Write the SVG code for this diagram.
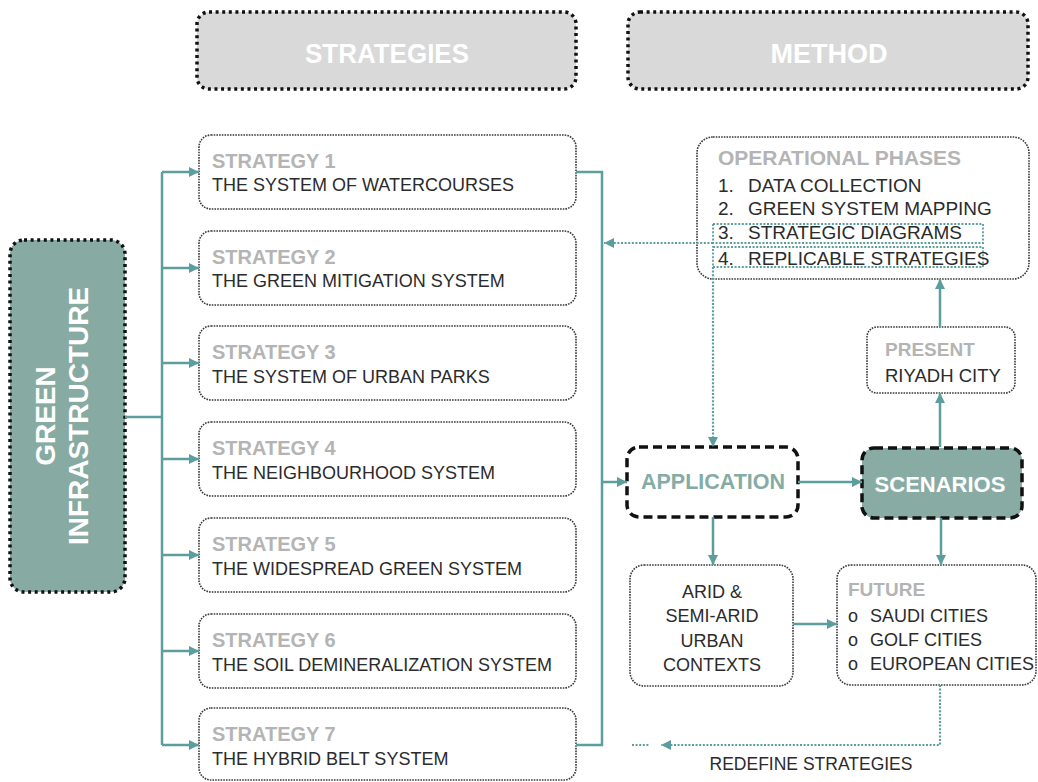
<svg xmlns="http://www.w3.org/2000/svg" width="1038" height="782" viewBox="0 0 1038 782">
<defs>
<style>
text{font-family:"Liberation Sans",Arial,sans-serif;}
.hdr{fill:#d9d9d9;stroke:#111;stroke-width:3.5;stroke-dasharray:3 3.6;}
.gi{fill:#87aba3;stroke:#111;stroke-width:3.5;stroke-dasharray:3 3.6;}
.box{fill:#fff;stroke:#3a3a3a;stroke-width:1.6;stroke-dasharray:1.6 1.1;}
.dash{fill:#fff;stroke:#111;stroke-width:3.5;stroke-dasharray:9 5;}
.dashf{fill:#88aca4;stroke:#111;stroke-width:3.5;stroke-dasharray:9 5;}
.tbox{fill:none;stroke:#5c9e9e;stroke-width:1.8;stroke-dasharray:2 1.6;}
.ln{stroke:#5c9e9e;stroke-width:2.5;fill:none;}
.dl{stroke:#5c9e9e;stroke-width:2.2;stroke-dasharray:2 1.6;fill:none;}
.ht{fill:#fff;font-weight:bold;font-size:27px;text-anchor:middle;}
.st{fill:#b4b4b4;font-weight:bold;font-size:20px;}
.sd{fill:#2b2b2b;font-size:18px;}
.op{fill:#2b2b2b;font-size:19px;}
.wt{fill:#fff;font-weight:bold;}
</style>
<marker id="ah" viewBox="0 0 10 10" markerWidth="11" markerHeight="10" refX="10" refY="5" orient="auto" markerUnits="userSpaceOnUse">
<path d="M0,0 L10,5 L0,10 z" fill="#5c9e9e"/>
</marker>
</defs>
<rect width="1038" height="782" fill="#fff"/>

<g id="hdr-strategies">
<rect class="hdr" x="197" y="12" width="379" height="77" rx="12"/>
<text class="ht" x="387" y="63" textLength="164" lengthAdjust="spacingAndGlyphs">STRATEGIES</text>
</g>
<g id="hdr-method">
<rect class="hdr" x="628" y="12" width="400" height="77" rx="12"/>
<text class="ht" x="829" y="63">METHOD</text>
</g>

<g id="green-infrastructure">
<rect class="gi" x="10" y="240" width="115" height="352" rx="14"/>
<text class="wt" font-size="28" text-anchor="middle" transform="translate(55,416) rotate(-90)">GREEN</text>
<text class="wt" font-size="28" text-anchor="middle" transform="translate(88,416) rotate(-90)">INFRASTRUCTURE</text>
</g>

<g id="strategy1"><rect class="box" x="199" y="135" width="377" height="74" rx="12"/>
<text class="st" x="212" y="168">STRATEGY 1</text><text class="sd" x="212" y="191">THE SYSTEM OF WATERCOURSES</text></g>
<g id="strategy2"><rect class="box" x="199" y="231" width="377" height="74" rx="12"/>
<text class="st" x="212" y="264">STRATEGY 2</text><text class="sd" x="212" y="287">THE GREEN MITIGATION SYSTEM</text></g>
<g id="strategy3"><rect class="box" x="199" y="326" width="377" height="74" rx="12"/>
<text class="st" x="212" y="359">STRATEGY 3</text><text class="sd" x="212" y="383">THE SYSTEM OF URBAN PARKS</text></g>
<g id="strategy4"><rect class="box" x="199" y="422" width="377" height="74" rx="12"/>
<text class="st" x="212" y="455">STRATEGY 4</text><text class="sd" x="212" y="479">THE NEIGHBOURHOOD SYSTEM</text></g>
<g id="strategy5"><rect class="box" x="199" y="518" width="377" height="74" rx="12"/>
<text class="st" x="212" y="551">STRATEGY 5</text><text class="sd" x="212" y="575">THE WIDESPREAD GREEN SYSTEM</text></g>
<g id="strategy6"><rect class="box" x="199" y="614" width="377" height="74" rx="12"/>
<text class="st" x="212" y="647">STRATEGY 6</text><text class="sd" x="212" y="671">THE SOIL DEMINERALIZATION SYSTEM</text></g>
<g id="strategy7"><rect class="box" x="199" y="708" width="377" height="72" rx="12"/>
<text class="st" x="212" y="741">STRATEGY 7</text><text class="sd" x="212" y="765">THE HYBRID BELT SYSTEM</text></g>

<g id="operational-phases">
<rect class="box" x="697" y="137" width="332" height="142" rx="16"/>
<text x="718" y="165" fill="#b4b4b4" font-weight="bold" font-size="21">OPERATIONAL PHASES</text>
<text class="op" x="718" y="192">1.</text><text class="op" x="748" y="192">DATA COLLECTION</text>
<text class="op" x="718" y="215">2.</text><text class="op" x="748" y="215">GREEN SYSTEM MAPPING</text>
<rect class="tbox" x="713" y="224" width="270" height="19"/>
<text class="op" x="718" y="239">3.</text><text class="op" x="748" y="239">STRATEGIC DIAGRAMS</text>
<rect class="tbox" x="713" y="247" width="270" height="20"/>
<text class="op" x="718" y="265">4.</text><text class="op" x="748" y="265">REPLICABLE STRATEGIES</text>
</g>

<g id="present">
<rect class="box" x="867" y="327" width="148" height="66" rx="10"/>
<text x="885" y="356" fill="#b4b4b4" font-weight="bold" font-size="19">PRESENT</text>
<text x="885" y="382" fill="#2b2b2b" font-size="18.5">RIYADH CITY</text>
</g>

<g id="application">
<rect class="dash" x="627" y="447" width="171" height="70" rx="12"/>
<text x="713" y="489" fill="#84aca4" font-weight="bold" font-size="21.5" text-anchor="middle">APPLICATION</text>
</g>

<g id="scenarios">
<rect class="dashf" x="862" y="448" width="160" height="70" rx="12"/>
<text class="wt" x="940" y="492" font-size="22" text-anchor="middle">SCENARIOS</text>
</g>

<g id="arid">
<rect class="box" x="630" y="565" width="163" height="121" rx="14"/>
<text class="sd" x="712" y="598" text-anchor="middle" font-size="18.5">ARID &amp;</text>
<text class="sd" x="712" y="622" text-anchor="middle" font-size="18.5">SEMI-ARID</text>
<text class="sd" x="712" y="647" text-anchor="middle" font-size="18.5">URBAN</text>
<text class="sd" x="712" y="671" text-anchor="middle" font-size="18.5">CONTEXTS</text>
</g>

<g id="future">
<rect class="box" x="837" y="565" width="199" height="120" rx="14"/>
<text x="848" y="596" fill="#b4b4b4" font-weight="bold" font-size="19">FUTURE</text>
<text class="sd" x="848" y="622" font-size="16">o</text><text class="sd" x="870" y="622" font-size="18.5">SAUDI CITIES</text>
<text class="sd" x="848" y="646" font-size="16">o</text><text class="sd" x="870" y="646" font-size="18.5">GOLF CITIES</text>
<text class="sd" x="848" y="670" font-size="16">o</text><text class="sd" x="870" y="670" font-size="18.5">EUROPEAN CITIES</text>
</g>

<g id="redefine-label">
<text x="811" y="770" fill="#2b2b2b" font-size="17.5" text-anchor="middle">REDEFINE STRATEGIES</text>
</g>

<g id="connectors">
<path class="ln" d="M125,417 H162"/>
<path class="ln" d="M162,172 V745"/>
<path class="ln" d="M162,172 H199" marker-end="url(#ah)"/>
<path class="ln" d="M162,268 H199" marker-end="url(#ah)"/>
<path class="ln" d="M162,363 H199" marker-end="url(#ah)"/>
<path class="ln" d="M162,459 H199" marker-end="url(#ah)"/>
<path class="ln" d="M162,555 H199" marker-end="url(#ah)"/>
<path class="ln" d="M162,651 H199" marker-end="url(#ah)"/>
<path class="ln" d="M162,745 H199" marker-end="url(#ah)"/>
<path class="ln" d="M576,172 H602 V745 H576"/>
<path class="ln" d="M602,482 H627" marker-end="url(#ah)"/>
<path class="ln" d="M798,482 H862" marker-end="url(#ah)"/>
<path class="ln" d="M940,447 V393" marker-end="url(#ah)"/>
<path class="ln" d="M940,327 V279" marker-end="url(#ah)"/>
<path class="ln" d="M713,517 V565" marker-end="url(#ah)"/>
<path class="ln" d="M941,518 V565" marker-end="url(#ah)"/>
<path class="ln" d="M793,624 H837" marker-end="url(#ah)"/>
<path class="dl" d="M713,243 H604" marker-end="url(#ah)"/>
<path class="dl" d="M713,267 V447" marker-end="url(#ah)"/>
<path class="dl" d="M940,685 V745 H661" marker-end="url(#ah)"/>
<path class="dl" d="M632,745 H649"/>
</g>
</svg>
